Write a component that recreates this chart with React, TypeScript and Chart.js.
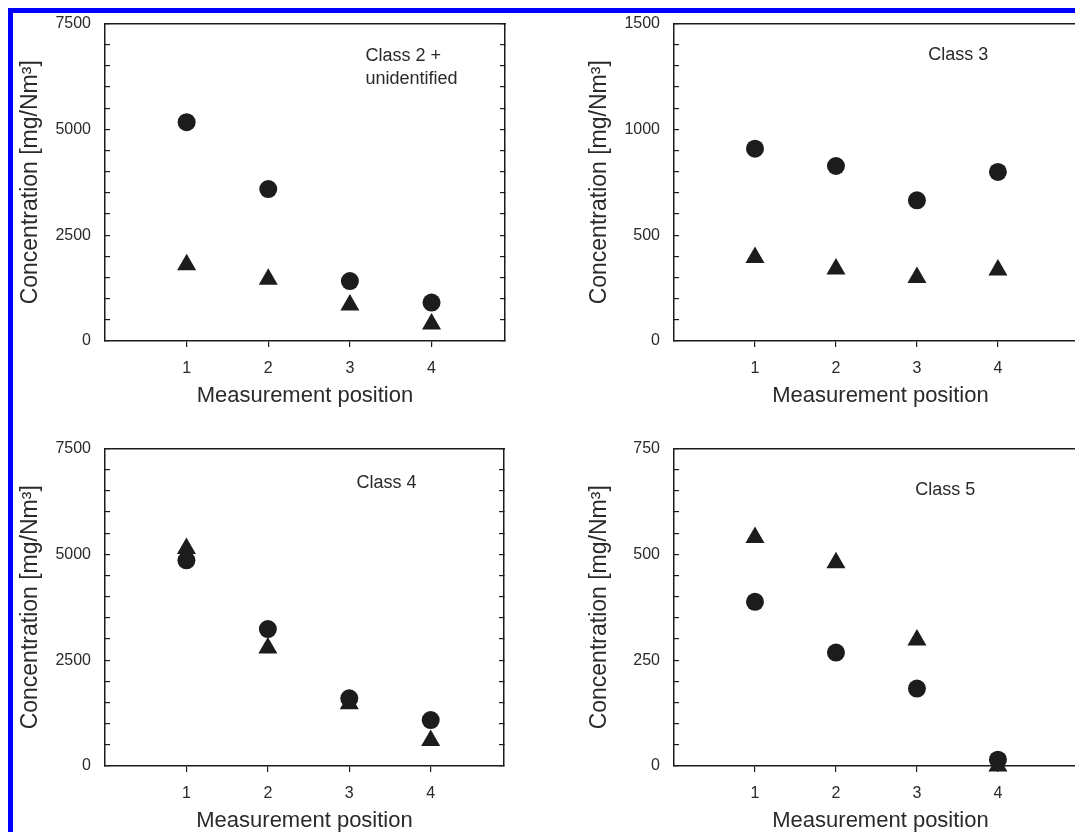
import React, { useEffect, useRef } from 'react';
import { Chart, registerables } from 'chart.js';

Chart.register(...registerables);

// ---- data ----
const POSITIONS = [1, 2, 3, 4];
const X_TICK_LABELS = ['1', '2', '3', '4'];

const CLASS2_CIRCLES = [5170, 3590, 1415, 908];
const CLASS2_TRIANGLES = [1800, 1460, 850, 400];

const CLASS3_CIRCLES = [909, 827, 665, 799];
const CLASS3_TRIANGLES = [395, 340, 300, 335];

const CLASS4_CIRCLES = [4860, 3235, 1600, 1085];
const CLASS4_TRIANGLES = [5140, 2790, 1470, 600];

const CLASS5_CIRCLES = [388, 268, 183, 15];
const CLASS5_TRIANGLES = [540, 480, 298, 0];

const Y_MAX = [7500, 1500, 7500, 750];
const Y_MINOR_STEP = [500, 100, 500, 50];
const Y_MAJOR_STEP = [2500, 500, 2500, 250];
const PANEL_LABELS = [['Class 2 +', 'unidentified'], ['Class 3'], ['Class 4'], ['Class 5']];

const X_TITLE = 'Measurement position';
const Y_TITLE = 'Concentration [mg/Nm³]';

// ---- styling / layout ----
const FONT = '"Liberation Sans", Arial, Helvetica, sans-serif';
const INK = '#1c1c1c';
const TEXT = '#2a2a2a';

type Layout = {
  left: number; top: number; w: number; h: number;
  padTop: number; yW: number; y2W: number; xMax: number; titlePad: number;
  labelX: number; labelY: number;
};

const LAYOUTS: Layout[] = [
  { left: 0, top: -18, w: 527, h: 425, padTop: 28, yW: 92, y2W: 35, xMax: 4.9, titlePad: 4, labelX: 3.19, labelY: 6627 },
  { left: 527, top: -18, w: 560, h: 425, padTop: 28, yW: 134, y2W: 13, xMax: 5.1, titlePad: 46, labelX: 3.14, labelY: 1327 },
  { left: 0, top: 407, w: 527, h: 425, padTop: 28, yW: 92, y2W: 36, xMax: 4.9, titlePad: 4, labelX: 3.09, labelY: 6563 },
  { left: 527, top: 407, w: 560, h: 425, padTop: 28, yW: 134, y2W: 13, xMax: 5.1, titlePad: 46, labelX: 2.98, labelY: 640 },
];

const CIRCLES = [CLASS2_CIRCLES, CLASS3_CIRCLES, CLASS4_CIRCLES, CLASS5_CIRCLES];
const TRIANGLES = [CLASS2_TRIANGLES, CLASS3_TRIANGLES, CLASS4_TRIANGLES, CLASS5_TRIANGLES];

function Panel({ idx }: { idx: number }) {
  const ref = useRef<HTMLCanvasElement | null>(null);
  const L = LAYOUTS[idx];

  useEffect(() => {
    if (!ref.current) return;
    const yMax = Y_MAX[idx];
    const minor = Y_MINOR_STEP[idx];
    const major = Y_MAJOR_STEP[idx];
    const lines = PANEL_LABELS[idx];

    const labelPlugin = {
      id: 'classLabel' + idx,
      afterDraw(chart: any) {
        const { ctx, scales } = chart;
        const px = scales.x.getPixelForValue(L.labelX);
        const py = scales.y.getPixelForValue(L.labelY);
        ctx.save();
        ctx.font = `18px ${FONT}`;
        ctx.fillStyle = TEXT;
        ctx.textAlign = 'left';
        ctx.textBaseline = 'alphabetic';
        lines.forEach((t, i) => ctx.fillText(t, px, py + i * 23));
        ctx.restore();
      },
    };

    const border = { display: true, color: INK, width: 1.5 };

    const chart = new Chart(ref.current, {
      type: 'scatter',
      data: {
        datasets: [
          {
            label: 'triangles',
            data: POSITIONS.map((p, i) => ({ x: p, y: TRIANGLES[idx][i] })),
            pointStyle: 'triangle',
            pointRadius: 11,
            backgroundColor: INK,
            borderColor: INK,
            borderWidth: 0,
            clip: false,
          } as any,
          {
            label: 'circles',
            data: POSITIONS.map((p, i) => ({ x: p, y: CIRCLES[idx][i] })),
            pointStyle: 'circle',
            pointRadius: 9,
            backgroundColor: INK,
            borderColor: INK,
            borderWidth: 0,
            clip: false,
          } as any,
        ],
      },
      options: {
        responsive: false,
        animation: false,
        devicePixelRatio: 1,
        layout: { padding: { top: L.padTop, left: 0, right: 0, bottom: 0 } },
        plugins: { legend: { display: false }, tooltip: { enabled: false } },
        events: [],
        scales: {
          x: {
            type: 'linear',
            position: 'bottom',
            min: 0,
            max: L.xMax,
            afterBuildTicks: (s: any) => {
              s.ticks = POSITIONS.map((v) => ({ value: v }));
            },
            ticks: {
              autoSkip: false,
              maxRotation: 0,
              padding: 12,
              color: TEXT,
              font: { family: FONT, size: 16 },
              callback: (v: any) => {
                const i = POSITIONS.indexOf(Number(v));
                return i >= 0 ? X_TICK_LABELS[i] : '';
              },
            },
            grid: { drawOnChartArea: false, tickLength: 6, color: INK, lineWidth: 1.2 },
            border,
            title: {
              display: true,
              text: X_TITLE,
              color: TEXT,
              font: { family: FONT, size: 22, lineHeight: 1.2 },
              padding: { top: 0, bottom: 11 },
            },
            afterFit: (s: any) => { s.height = 79; },
          },
          x2: {
            type: 'linear',
            position: 'top',
            min: 0,
            max: L.xMax,
            ticks: { display: false },
            grid: { drawOnChartArea: false, drawTicks: false },
            border,
            afterFit: (s: any) => { s.height = 0; },
          },
          y: {
            type: 'linear',
            position: 'left',
            min: 0,
            max: yMax,
            ticks: {
              stepSize: minor,
              autoSkip: false,
              padding: 19,
              color: TEXT,
              font: { family: FONT, size: 16 },
              callback: (v: any) => (Number(v) % major === 0 ? String(v) : ''),
            },
            grid: { drawOnChartArea: false, tickLength: -5, color: INK, lineWidth: 1.2 },
            border,
            title: {
              display: true,
              text: Y_TITLE,
              color: TEXT,
              font: { family: FONT, size: 23, lineHeight: 1.2 },
              padding: { top: L.titlePad, bottom: 0 },
            },
            afterFit: (s: any) => { s.width = L.yW; },
          },
          y2: {
            type: 'linear',
            position: 'right',
            min: 0,
            max: yMax,
            ticks: { stepSize: minor, autoSkip: false, display: false },
            grid: { drawOnChartArea: false, tickLength: -5, color: INK, lineWidth: 1.2 },
            border,
            afterFit: (s: any) => { s.width = L.y2W; },
          },
        },
      } as any,
      plugins: [labelPlugin],
    });
    return () => chart.destroy();
  }, [idx]);

  return (
    <canvas
      ref={ref}
      width={L.w}
      height={L.h}
      style={{ position: 'absolute', left: L.left, top: L.top, width: L.w, height: L.h }}
    />
  );
}

export default function App() {
  useEffect(() => {
    document.documentElement.style.overflow = 'hidden';
    document.body.style.overflow = 'hidden';
  }, []);
  return (
    <div
      style={{
        position: 'relative',
        width: 1075,
        height: 824,
        boxSizing: 'border-box',
        borderTop: '5px solid #0000ff',
        borderLeft: '5px solid #0000ff',
        overflow: 'hidden',
        background: '#ffffff',
      }}
    >
      {[0, 1, 2, 3].map((i) => (
        <Panel key={i} idx={i} />
      ))}
    </div>
  );
}
